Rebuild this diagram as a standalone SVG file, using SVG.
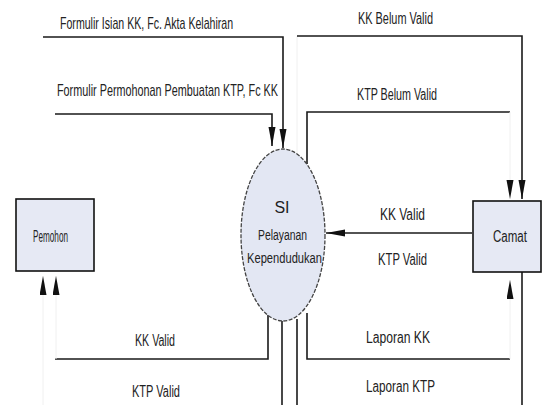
<svg xmlns="http://www.w3.org/2000/svg" width="542" height="405" viewBox="0 0 542 405">
<defs>
<style>
.t{font-family:"Liberation Sans",Arial,sans-serif;font-size:16px;fill:#222}
.s{font-size:14px}
.c{fill:none;stroke:#1a1a1a;stroke-width:1.6}
.f{fill:none;stroke:#f0f0f0;stroke-width:1}
.box{fill:#e6e9f4;stroke:#111;stroke-width:1.6}
</style>
<marker id="ah" markerUnits="userSpaceOnUse" markerWidth="20" markerHeight="8" refX="19" refY="3.5" orient="auto">
<path d="M0,0 L19,3.5 L0,7 z" fill="#111"/>
</marker>
</defs>
<rect width="542" height="405" fill="#fff"/>
<g id="connectors">
<polyline class="c" points="43,37 283,37 283,148" marker-end="url(#ah)"/>
<polyline class="c" points="55,114 272,114 272,146" marker-end="url(#ah)"/>
<line class="f" x1="297" y1="154" x2="297" y2="36"/>
<polyline class="c" points="297,36 522,36 522,199" marker-end="url(#ah)"/>
<polyline class="c" points="307,164 307,112 510,112"/>
<line class="f" x1="510" y1="112" x2="510" y2="199" marker-end="url(#ah)"/>
<line class="c" x1="472" y1="233" x2="326" y2="233" marker-end="url(#ah)"/>
<polyline class="c" points="268,315 268,359 55,359"/>
<line class="f" x1="56" y1="359" x2="56" y2="276" marker-end="url(#ah)"/>
<line class="c" x1="282" y1="321" x2="282" y2="405"/>
<line class="f" x1="43" y1="405" x2="43" y2="276" marker-end="url(#ah)"/>
<polyline class="c" points="307,313 307,359 510,359"/>
<line class="f" x1="510" y1="359" x2="510" y2="280" marker-end="url(#ah)"/>
<line class="c" x1="297" y1="319" x2="297" y2="405"/>
<line class="c" x1="522" y1="405" x2="522" y2="272"/>
</g>
<g id="labels">
<text class="t" transform="translate(60,29) scale(0.78,1)" x="0" y="0" textLength="222" lengthAdjust="spacingAndGlyphs">Formulir Isian KK, Fc. Akta Kelahiran</text>
<text class="t" transform="translate(57,96) scale(0.72,1)" x="0" y="0" textLength="307" lengthAdjust="spacingAndGlyphs">Formulir Permohonan Pembuatan KTP, Fc KK</text>
<text class="t" x="358" y="24" textLength="75" lengthAdjust="spacingAndGlyphs">KK Belum Valid</text>
<text class="t" x="357" y="100" textLength="80" lengthAdjust="spacingAndGlyphs">KTP Belum Valid</text>
<text class="t" x="380" y="220" textLength="45" lengthAdjust="spacingAndGlyphs">KK Valid</text>
<text class="t" x="378" y="265" textLength="49" lengthAdjust="spacingAndGlyphs">KTP Valid</text>
<text class="t" x="135" y="346" textLength="40" lengthAdjust="spacingAndGlyphs">KK Valid</text>
<text class="t" x="132" y="397" textLength="48" lengthAdjust="spacingAndGlyphs">KTP Valid</text>
<text class="t" x="366" y="343" textLength="64" lengthAdjust="spacingAndGlyphs">Laporan KK</text>
<text class="t" x="366" y="392" textLength="69" lengthAdjust="spacingAndGlyphs">Laporan KTP</text>
</g>
<g id="pemohon">
<rect class="box" x="16" y="199" width="78" height="72"/>
<text class="t" x="33" y="242" textLength="35" lengthAdjust="spacingAndGlyphs">Pemohon</text>
</g>
<g id="camat">
<rect class="box" x="473" y="201" width="68" height="71"/>
<text class="t" x="493" y="242" textLength="34" lengthAdjust="spacingAndGlyphs">Camat</text>
</g>
<g id="si">
<ellipse cx="283" cy="235" rx="42" ry="86" fill="#e3e7f3" stroke="#444" stroke-width="1.3" stroke-dasharray="4 1.5"/>
<text class="t" x="282" y="213" text-anchor="middle">SI</text>
<text class="t s" x="258" y="240" textLength="49" lengthAdjust="spacingAndGlyphs">Pelayanan</text>
<text class="t s" x="247" y="263" textLength="75" lengthAdjust="spacingAndGlyphs">Kependudukan</text>
</g>
</svg>
